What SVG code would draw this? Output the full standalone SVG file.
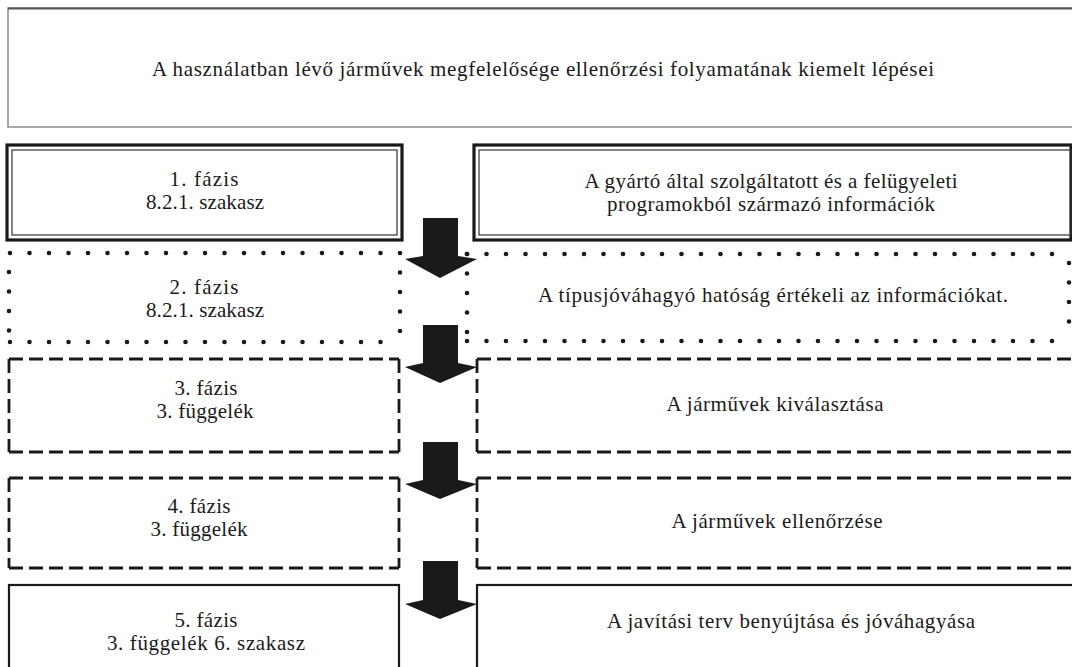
<svg xmlns="http://www.w3.org/2000/svg" width="1072" height="667" viewBox="0 0 1072 667">
<style>
text{font-family:"Liberation Serif","DejaVu Serif",serif;font-size:21px;fill:#1a1a1a;text-anchor:middle}
.outer{fill:none;stroke:#1a1a1a;stroke-width:3.2}
.inner{fill:none;stroke:#333;stroke-width:1.2}
.dot{fill:none;stroke:#1a1a1a;stroke-width:4.6;stroke-linecap:round;stroke-dasharray:0 19.5}
.dash{fill:none;stroke:#1a1a1a;stroke-width:2.8;stroke-dasharray:14 6}
.solid{fill:none;stroke:#1a1a1a;stroke-width:2.2}
.arrow{fill:#1a1a1a}
</style>
<rect width="1072" height="667" fill="#fff"/>
<g id="title">
<rect x="8" y="8" width="1075" height="119" fill="#fff" stroke="#8a8a8a" stroke-width="1.5"/>
<line x1="8" y1="8.5" x2="1072" y2="8.5" stroke="#555" stroke-width="2"/>
<text x="543" y="76" textLength="782" lengthAdjust="spacing">A használatban lévő járművek megfelelősége ellenőrzési folyamatának kiemelt lépései</text>
</g>
<g id="phase1">
<rect class="outer" x="7" y="145" width="395" height="95"/>
<rect class="inner" x="12" y="150" width="385" height="85"/>
<text x="204" y="186" textLength="69" lengthAdjust="spacing">1. fázis</text>
<text x="205" y="209" textLength="118" lengthAdjust="spacing">8.2.1. szakasz</text>
</g>
<g id="step1">
<rect class="outer" x="474" y="145" width="597" height="95"/>
<rect class="inner" x="479" y="150" width="592" height="85"/>
<text x="771" y="188" textLength="373" lengthAdjust="spacing">A gyártó által szolgáltatott és a felügyeleti</text>
<text x="771" y="211" textLength="328" lengthAdjust="spacing">programokból származó információk</text>
</g>
<g id="phase2">
<line class="dot" x1="10" y1="253" x2="400" y2="253"/>
<line class="dot" x1="10" y1="342" x2="400" y2="342"/>
<line class="dot" x1="9" y1="272" x2="9" y2="335"/>
<line class="dot" x1="400" y1="253" x2="400" y2="342"/>
<text x="204" y="294" textLength="69" lengthAdjust="spacing">2. fázis</text>
<text x="205" y="317" textLength="118" lengthAdjust="spacing">8.2.1. szakasz</text>
</g>
<g id="step2">
<line class="dot" x1="467" y1="254" x2="1069" y2="254"/>
<line class="dot" x1="467" y1="341" x2="1069" y2="341"/>
<line class="dot" x1="467" y1="254" x2="467" y2="341"/>
<line class="dot" x1="1069" y1="263" x2="1069" y2="341"/>
<text x="773" y="302" textLength="470" lengthAdjust="spacing">A típusjóváhagyó hatóság értékeli az információkat.</text>
</g>
<g id="phase3">
<path class="dash" d="M9 359H399M9 452H399M9 359V452M399 359V452"/>
<text x="206" y="395" textLength="63" lengthAdjust="spacing">3. fázis</text>
<text x="205" y="418" textLength="97" lengthAdjust="spacing">3. függelék</text>
</g>
<g id="step3">
<path class="dash" d="M477 359H1080M477 452H1080M477 359V452"/>
<text x="775" y="411" textLength="217" lengthAdjust="spacing">A járművek kiválasztása</text>
</g>
<g id="phase4">
<path class="dash" d="M9 478H399M9 568H399M9 478V568M399 478V568"/>
<text x="199" y="513" textLength="63" lengthAdjust="spacing">4. fázis</text>
<text x="199" y="536" textLength="97" lengthAdjust="spacing">3. függelék</text>
</g>
<g id="step4">
<path class="dash" d="M477 478H1080M477 568H1080M477 478V568"/>
<text x="777" y="528" textLength="211" lengthAdjust="spacing">A járművek ellenőrzése</text>
</g>
<g id="phase5">
<rect class="solid" x="9" y="585" width="390" height="100"/>
<text x="206" y="627" textLength="63" lengthAdjust="spacing">5. fázis</text>
<text x="206" y="650" textLength="198" lengthAdjust="spacing">3. függelék 6. szakasz</text>
</g>
<g id="step5">
<rect class="solid" x="477" y="585" width="610" height="100"/>
<text x="791" y="628" textLength="368" lengthAdjust="spacing">A javítási terv benyújtása és jóváhagyása</text>
</g>
<g id="connectors">
<polygon class="arrow" points="423,218 458,218 458,256 477,259 440,278 405,259 423,256"/>
<polygon class="arrow" points="423,325 458,325 458,363 477,367 440,383 405,367 423,363"/>
<polygon class="arrow" points="423,442 458,442 458,480 477,484 440,499 405,484 423,480"/>
<polygon class="arrow" points="423,561 458,561 458,600 477,604 440,619 405,604 423,600"/>
</g>
</svg>
